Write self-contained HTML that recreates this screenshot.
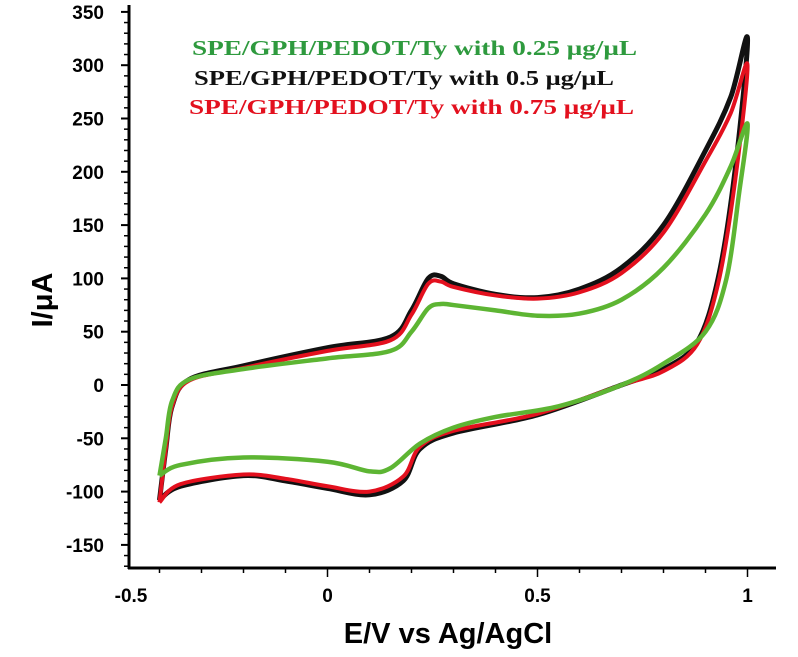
<!DOCTYPE html>
<html><head><meta charset="utf-8"><style>
html,body{margin:0;padding:0;background:#fff;}
svg{display:block;font-family:"Liberation Sans",sans-serif;}
</style></head><body>
<svg id="chart" width="798" height="657">
<g id="axes"></g>
<g id="series"></g>
<text transform="translate(52,300) rotate(-90)" text-anchor="middle" font-size="29" font-weight="bold">I/μA</text>
<text x="448" y="643" text-anchor="middle" font-size="29" font-weight="bold">E/V vs Ag/AgCl</text>
<g font-family="'Liberation Serif',serif" font-weight="bold" font-size="21">
<text x="192" y="55" fill="#2e9a3e" textLength="445" lengthAdjust="spacingAndGlyphs">SPE/GPH/PEDOT/Ty with 0.25 μg/μL</text>
<text x="194" y="85" fill="#111" textLength="420" lengthAdjust="spacingAndGlyphs">SPE/GPH/PEDOT/Ty with 0.5 μg/μL</text>
<text x="189" y="114" fill="#e3101e" textLength="445" lengthAdjust="spacingAndGlyphs">SPE/GPH/PEDOT/Ty with 0.75 μg/μL</text>
</g>
</svg>
<script>
const yTicks=[350,300,250,200,150,100,50,0,-50,-100,-150];
const xTicks=[-0.5,0,0.5,1];
const E_black=[-0.4,-0.385,-0.37,-0.33,-0.2,0,0.15,0.2,0.24,0.27,0.3,0.4,0.5,0.6,0.7,0.8,0.9,0.96,1.0,0.97,0.93,0.88,0.8,0.7,0.5,0.3,0.22,0.18,0.1,0,-0.1,-0.2,-0.35,-0.4];
const I_black=[-108,-60,-20,5,18,35,45,70,100,102,95,85,82,90,110,150,220,270,325,200,100,40,15,0,-28,-45,-60,-90,-103,-97,-90,-85,-95,-108];
const I_red=[-110,-60,-20,4,16,32,42,66,95,97,92,84,81,87,105,143,210,255,300,190,95,38,13,0,-27,-43,-58,-86,-100,-95,-88,-84,-93,-110];
const E_green=[-0.4,-0.385,-0.37,-0.33,-0.2,0,0.15,0.2,0.24,0.27,0.3,0.4,0.5,0.6,0.7,0.8,0.9,0.96,1.0,0.98,0.95,0.9,0.8,0.7,0.55,0.4,0.3,0.22,0.15,0.1,0,-0.2,-0.35,-0.4];
const I_green=[-85,-50,-15,5,15,25,32,50,72,76,75,70,65,67,80,110,160,205,245,180,100,50,20,0,-20,-30,-40,-55,-78,-81,-72,-68,-75,-85];
const SVGNS="http://www.w3.org/2000/svg";
const x=v=>327.5+(v-0)*420;
const y=v=>385-v*53.3/50;
function mk(tag,attrs,parent){const e=document.createElementNS(SVGNS,tag);for(const k in attrs)e.setAttribute(k,attrs[k]);parent.appendChild(e);return e;}
const ax=document.getElementById('axes');
let l=mk('line',{x1:129,y1:5,x2:129,y2:569,stroke:'#000','stroke-width':3},ax);


l=mk('line',{x1:128,y1:568,x2:776,y2:568,stroke:'#000','stroke-width':3},ax);


for(let v=-170;v<=350;v+=10){const maj=v%50===0;mk('line',{x1:maj?121:124,x2:129,y1:y(v),y2:y(v),stroke:'#000','stroke-width':maj?2:1.5},ax);}
yTicks.forEach(v=>{const t=mk('text',{x:104,y:y(v)+7,'text-anchor':'end','font-size':19,'font-weight':'bold'},ax);t.textContent=v;

});
for(let i=-4;i<=10;i++){const v=i/10;mk('line',{x1:x(v),x2:x(v),y1:568,y2:i%5===0?577:573,stroke:'#000','stroke-width':1.5},ax);}
xTicks.forEach(v=>{const t=mk('text',{x:v===-0.5?131:x(v),y:602,'text-anchor':'middle','font-size':19,'font-weight':'bold'},ax);t.textContent=v;

});
function path(E,I){const p=E.map((e,i)=>[x(e),y(I[i])]);let d='M'+p[0][0]+','+p[0][1];
for(let i=0;i<p.length-1;i++){const p0=p[Math.max(0,i-1)],p1=p[i],p2=p[i+1],p3=p[Math.min(p.length-1,i+2)];
d+=' C'+(p1[0]+(p2[0]-p0[0])/6)+','+(p1[1]+(p2[1]-p0[1])/6)+' '+(p2[0]-(p3[0]-p1[0])/6)+','+(p2[1]-(p3[1]-p1[1])/6)+' '+p2[0]+','+p2[1];}return d;}
const sg=document.getElementById('series');
let s=mk('path',{d:path(E_black,I_black),fill:'none',stroke:'#111','stroke-width':5,'stroke-linejoin':'round'},sg);


s=mk('path',{d:path(E_black,I_red),fill:'none',stroke:'#e3101e','stroke-width':4,'stroke-linejoin':'round'},sg);


s=mk('path',{d:path(E_green,I_green),fill:'none',stroke:'#5db533','stroke-width':4.5,'stroke-linejoin':'round'},sg);


</script>
</body></html>
